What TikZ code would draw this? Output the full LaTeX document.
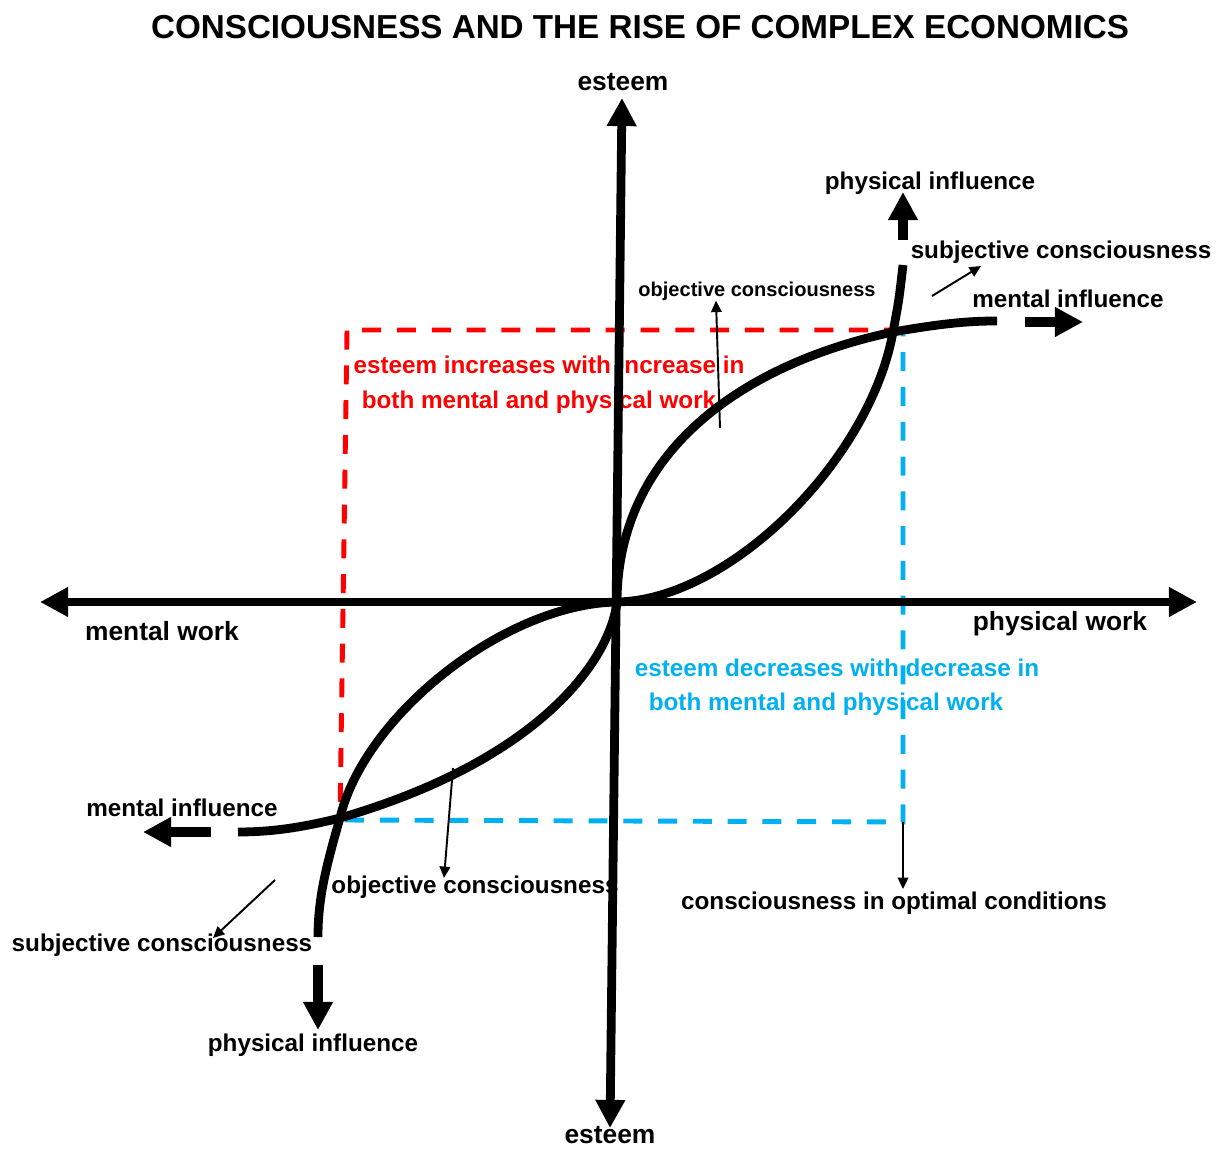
\documentclass[tikz,border=0pt]{standalone}
\usepackage{fontspec}
\setmainfont{Liberation Sans}
\usetikzlibrary{arrows.meta}
\definecolor{skyblue}{HTML}{00B0F0}

\begin{document}
\begin{tikzpicture}[x=0.02cm, y=-0.02cm,
    every node/.style={font=\bfseries\fontsize{13.8}{16}\selectfont, inner sep=0pt},
    big/.style={font=\bfseries\fontsize{15}{18}\selectfont},
    small/.style={font=\bfseries\fontsize{11.4}{14}\selectfont},
    axis/.style={line width=5pt, {Triangle[width=16pt,length=16pt]}-{Triangle[width=16pt,length=16pt]}},
    curve/.style={line width=5pt},
    infl/.style={line width=5.7pt, -{Triangle[width=16pt,length=16pt]}},
    hint/.style={line width=1.1pt, -{Triangle[width=6pt,length=6.5pt]}},
    reddash/.style={red, line width=2.8pt, dash pattern=on 10.8pt off 9pt},
    bluedash/.style={skyblue, line width=2.8pt, dash pattern=on 10.8pt off 9pt}]
    \useasboundingbox (0,0) rectangle (1221,1149);

    % main points
    \coordinate (o) at (617,602);
    \coordinate (p1) at (893,332);
    \coordinate (p2) at (340,818);

    % dashed frame
    \draw[reddash] (903,330) -- (347,330) -- (340,818);
    \draw[bluedash] (345,820) -- (903,822) -- (903,335);

    % labels
    \node[font=\bfseries\fontsize{18.9}{22}\selectfont] (title) at (640,27) {CONSCIOUSNESS AND THE RISE OF COMPLEX ECONOMICS};
    \node[big] (esteemtop) at (623,82) {esteem};
    \node[big] (esteembot) at (610,1135) {esteem};
    \node[big] (mwork) at (162,631) {mental work};
    \node[big] (pwork) at (1060,624) {physical work};
    \node (pinfltop) at (930,183) {physical influence};
    \node (pinflbot) at (313,1045) {physical influence};
    \node (minfltop) at (1068,299) {mental influence};
    \node (minflbot) at (182,808) {mental influence};
    \node (subjtop) at (1061,252) {subjective consciousness};
    \node (subjbot) at (162,945) {subjective consciousness};
    \node[small] (objtop) at (757,291) {objective consciousness};
    \node (objbot) at (475,887) {objective consciousness};
    \node (optimal) at (894,903) {consciousness in optimal conditions};
    \node[red] (incr1) at (549,365) {esteem increases with increase in};
    \node[red] (incr2) at (539,402) {both mental and physical work};
    \node[skyblue] (decr1) at (837,668) {esteem decreases with decrease in};
    \node[skyblue] (decr2) at (826,704) {both mental and physical work};

    % curves
    \coordinate (mendtop) at (997,321);
    \coordinate (pendtop) at (903,265);
    \coordinate (mendbot) at (238,832);
    \coordinate (pendbot) at (318,937);
    \draw[curve] (o) .. controls (618,440) and (760,360) .. (p1) .. controls (950,322) and (975,321) .. (mendtop);
    \draw[curve] (o) .. controls (730,600) and (870,460) .. (p1) .. controls (899,300) .. (pendtop);
    \draw[curve] (o) .. controls (610,660) and (540,760) .. (p2) .. controls (300,828) and (270,832) .. (mendbot);
    \draw[curve] (o) .. controls (504,604) and (364,716) .. (p2) .. controls (325,870) and (318,900) .. (pendbot);

    % influence arrows
    \draw[infl] (1025,322) coordinate (mtail1) -- (1083,322) coordinate (mtip1);
    \draw[infl] (903,240) coordinate (ptail1) -- (903,192) coordinate (ptip1);
    \draw[infl] (211,832) coordinate (mtail2) -- (143,832) coordinate (mtip2);
    \draw[infl] (318,965) coordinate (ptail2) -- (318,1030) coordinate (ptip2);

    % pointers to the labels
    \draw[hint] (720,428) -- (objtop.south -| 716,0);
    \draw[hint] (932,296) -- (981,266);
    \draw[hint] (453,768) -- (444,878);
    \draw[hint] (275,880) -- (213,938);
    \draw[hint] (903,822) -- (903,889);

    % axes
    \coordinate (xl) at (40,602);
    \coordinate (xr) at (1197,602);
    \coordinate (yt) at (622,98);
    \coordinate (yb) at (610,1128);
    \draw[axis] (xl) -- (xr);
    \draw[axis] (yb) -- (yt);
\end{tikzpicture}
\end{document}
